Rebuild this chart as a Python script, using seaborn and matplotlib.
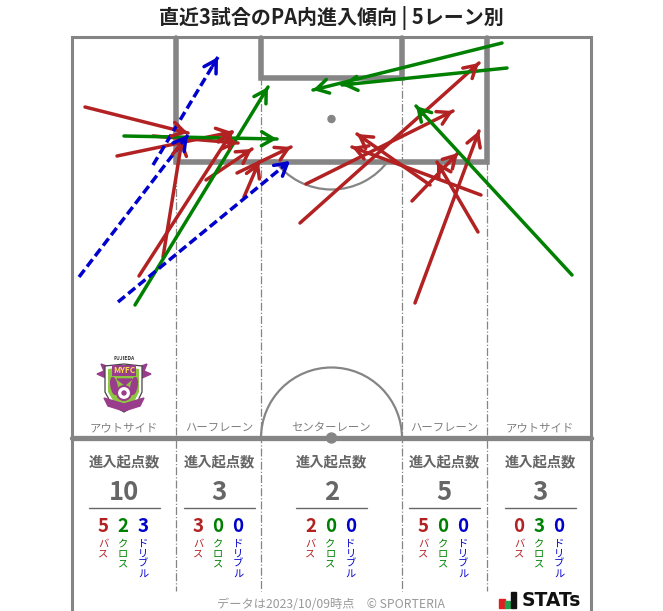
import numpy as np
import pandas as pd
import matplotlib
matplotlib.use("Agg")
import matplotlib.pyplot as plt
from matplotlib.patches import Arc, Circle, Ellipse, Polygon, Rectangle
import seaborn as sns

sns.set_theme(style="white")
plt.rcParams["font.family"] = ["Noto Sans CJK JP", "DejaVu Sans"]

GRAY = "#858585"
TXT = "#666666"
RED = "#b22222"
GREEN = "#008000"
BLUE = "#0000cd"
colors = {"pass": RED, "cross": GREEN, "dribble": BLUE}

# arrows
pass_x0 = [85, 117, 139, 163, 153, 206, 237, 244, 306, 300, 415, 412, 481, 478, 430]
pass_y0 = [107, 156, 276, 257, 136, 180, 173, 197, 184, 223, 303, 201, 195, 232, 185]
pass_x1 = [188, 232, 232, 182, 238, 252, 291, 259, 453, 479, 479, 458, 352, 437, 357]
pass_y1 = [133, 132, 132, 140, 143, 149, 147, 162, 111, 63, 131, 153, 147, 162, 134]

cross_x0 = [124, 135, 502, 507, 572]
cross_y0 = [136, 305, 43, 68, 275]
cross_x1 = [277, 268, 313, 342, 416]
cross_y1 = [139, 87, 90, 85, 106]

drib_x0 = [79, 118, 153]
drib_y0 = [277, 302, 165]
drib_x1 = [188, 290, 218]
drib_y1 = [135, 161, 57]

# lane table
lane_names = ["アウトサイド", "ハーフレーン", "センターレーン", "ハーフレーン", "アウトサイド"]
lane_x = [124, 219, 331.5, 444, 540]
totals = [10, 3, 2, 5, 3]
pass_counts = [5, 3, 2, 5, 0]
cross_counts = [2, 0, 0, 0, 3]
drib_counts = [3, 0, 0, 0, 0]

rows = []
arrow_id = 0
for kind, xs0, ys0, xs1, ys1 in [
    ("pass", pass_x0, pass_y0, pass_x1, pass_y1),
    ("cross", cross_x0, cross_y0, cross_x1, cross_y1),
    ("dribble", drib_x0, drib_y0, drib_x1, drib_y1),
]:
    for a, b, c, d in zip(xs0, ys0, xs1, ys1):
        rows.append({"id": arrow_id, "kind": kind, "x": a, "y": b})
        rows.append({"id": arrow_id, "kind": kind, "x": c, "y": d})
        arrow_id += 1
df = pd.DataFrame(rows)

fig = plt.figure(figsize=(6.63, 6.11), dpi=100)
ax = fig.add_axes([0, 0, 1, 1])

# %% pitch
ax.plot([71.7, 71.7, 591.3, 591.3], [611, 37, 37, 611], color=GRAY, lw=2.2, zorder=1, solid_joinstyle="miter")
ax.plot([176, 176, 486.7, 486.7], [38, 161.7, 161.7, 38], color=GRAY, lw=4, zorder=1, solid_joinstyle="miter")
ax.plot([260.7, 260.7, 402.3, 402.3], [38, 77.5, 77.5, 38], color=GRAY, lw=4, zorder=1, solid_joinstyle="miter")
ax.plot([72, 591], [438.3, 438.3], color=GRAY, lw=3.8, zorder=1)
for x, top in [(176, 162), (260.7, 77), (402.3, 77), (486.7, 162)]:
    ax.plot([x, x], [top, 591], color=GRAY, lw=0.9, ls="-.", zorder=1)
ax.add_patch(Circle((331.5, 119), 3.5, color=GRAY, zorder=1))
ax.add_patch(Circle((331.5, 438), 5, color=GRAY, zorder=1))
# y axis is flipped, so angles run clockwise on screen
ax.add_patch(Arc((331.5, 119), 141, 141, theta1=35, theta2=145, color=GRAY, lw=1.6, zorder=1))
ax.add_patch(Arc((331.5, 438), 141, 141, theta1=180, theta2=360, color=GRAY, lw=1.6, zorder=1))

# %% arrows
sns.lineplot(
    data=df, x="x", y="y", hue="kind", style="kind", units="id", estimator=None, sort=False,
    palette=colors, dashes={"pass": "", "cross": "", "dribble": (2.6, 1.2)},
    linewidth=2.5, legend=False, ax=ax, zorder=3,
)
for kind, g in df.groupby("id", sort=False):
    p0 = g.iloc[0]
    p1 = g.iloc[1]
    d = np.array([p1.x - p0.x, p1.y - p0.y], dtype=float)
    d = d / np.hypot(*d)
    ax.annotate(
        "", xy=(p1.x, p1.y), xytext=(p1.x - d[0] * 10, p1.y - d[1] * 10),
        arrowprops=dict(arrowstyle="->,head_length=0.72,head_width=0.42", color=colors[p0.kind],
                        lw=2.5, shrinkA=0, shrinkB=0),
        zorder=4,
    )

# %% table under the pitch
for i, x in enumerate(lane_x):
    ax.text(x, 428, lane_names[i], ha="center", va="center", fontsize=8.2, color="#808080")
    ax.text(x, 462, "進入起点数", ha="center", va="center", fontsize=10.3, color=TXT, fontweight="bold")
    ax.text(x, 492, str(totals[i]), ha="center", va="center", fontsize=18.5, color=TXT, fontweight="bold")
    ax.plot([x - 35.5, x + 35.5], [508, 508], color=TXT, lw=1)
    for dx, n, label, c in [
        (-20, pass_counts[i], "バス", RED),
        (0, cross_counts[i], "クロス", GREEN),
        (20, drib_counts[i], "ドリブル", BLUE),
    ]:
        ax.text(x + dx - 1, 526, str(n), ha="center", va="center", fontsize=13.5, color=c, fontweight="bold")
        ax.text(x + dx - 1, 539, "\n".join(label), ha="center", va="top", fontsize=7.4, color=c, linespacing=1.0)

# %% club crest, rough
ax.text(124, 358, "FUJIEDA", ha="center", va="center", fontsize=3.6, color="#333333", fontweight="bold")
wing = "#9a3c8c"
ax.add_patch(Polygon([[97, 374], [104, 371], [101, 364], [112, 368], [136, 368], [147, 364], [144, 371], [151, 374], [142, 378], [106, 378]],
                     color=wing, zorder=2))
ax.add_patch(Polygon([[105, 366], [124, 364], [142, 366], [142, 392], [136, 405], [124, 412], [112, 405], [105, 392]],
                     facecolor="white", edgecolor="#444444", lw=0.9, zorder=2))
ax.add_patch(Polygon([[108, 369], [124, 367], [139, 369], [139, 392], [134, 402], [124, 408], [114, 402], [108, 392]],
                     facecolor="#8dc63f", edgecolor="none", zorder=2))
ax.add_patch(Ellipse((114, 386), 6, 17, angle=-10, color=wing, zorder=3))
ax.add_patch(Ellipse((134, 386), 6, 17, angle=10, color=wing, zorder=3))
ax.add_patch(Polygon([[104, 398], [124, 404], [144, 398], [140, 406], [124, 411], [108, 406]], color=wing, zorder=3))
ax.add_patch(Circle((124, 393), 7, facecolor="white", edgecolor=wing, lw=1.5, zorder=3))
ax.add_patch(Circle((124, 393), 2, color=wing, zorder=4))
ax.add_patch(Polygon([[117, 379], [132, 379], [125, 385]], color=wing, zorder=3))
ax.text(124, 370.5, "MYFC", ha="center", va="center", fontsize=6, color="#f4e04d", fontweight="bold", zorder=4,
        bbox=dict(facecolor=wing, edgecolor="none", pad=0.6))

# %% title and footer
ax.text(331, 18, "直近3試合のPA内進入傾向 | 5レーン別", ha="center", va="center", fontsize=14.4, fontweight="bold", color="#222222")
ax.text(331, 604, "データは2023/10/09時点　© SPORTERIA", ha="center", va="center", fontsize=8.8, color="#999999")
ax.add_patch(Rectangle((499, 599), 6, 9, color="#e02020"))
ax.add_patch(Rectangle((505, 601), 5, 7, color="#20a050"))
ax.add_patch(Rectangle((511, 592), 5, 16, color="#111111"))
ax.text(522, 600, "STATs", ha="left", va="center", fontsize=13.5, fontweight="bold", color="#111111", family="DejaVu Sans")

ax.set_xlim(0, 663)
ax.set_ylim(611, 0)
ax.set_xlabel("")
ax.set_ylabel("")
ax.axis("off")
fig.savefig("out.png", dpi=100)
